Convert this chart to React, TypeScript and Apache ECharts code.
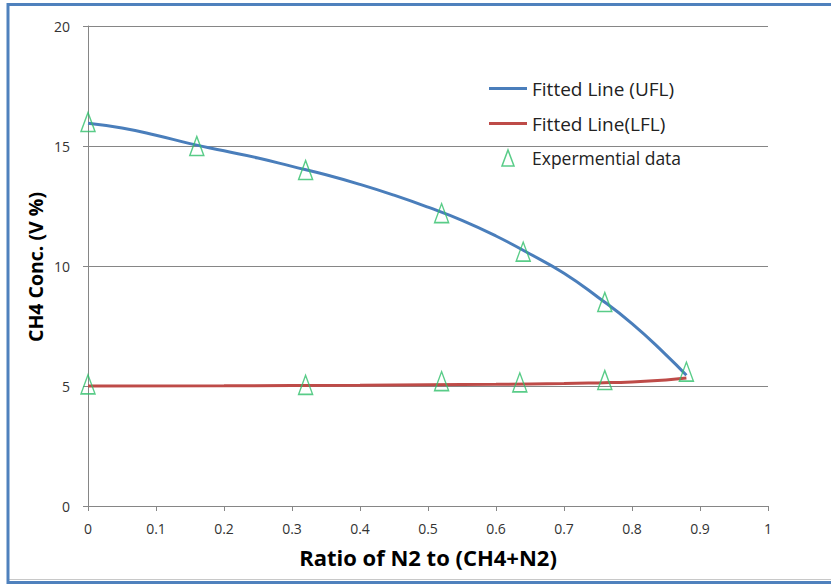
import React, { useEffect, useRef } from "react";
import * as echarts from "echarts";

// Fitted upper flammability limit curve
const uflX = [0, 0.05, 0.1, 0.15, 0.2, 0.25, 0.3, 0.35, 0.4, 0.45, 0.5, 0.55, 0.6, 0.65, 0.7, 0.75, 0.8, 0.85, 0.88];
const uflY = [15.95, 15.75, 15.45, 15.1, 14.8, 14.5, 14.15, 13.8, 13.4, 12.95, 12.45, 11.9, 11.25, 10.5, 9.7, 8.7, 7.6, 6.3, 5.45];

// Fitted lower flammability limit curve
const lflX = [0, 0.2, 0.4, 0.5, 0.6, 0.7, 0.75, 0.8, 0.85, 0.88];
const lflY = [5.0, 5.01, 5.03, 5.05, 5.07, 5.1, 5.13, 5.17, 5.25, 5.33];

// Experimental data
const expUpperX = [0, 0.16, 0.32, 0.52, 0.64, 0.76, 0.88];
const expUpperY = [16, 15, 14, 12.2, 10.6, 8.5, 5.6];
const expLowerX = [0, 0.32, 0.52, 0.635, 0.76];
const expLowerY = [5.07, 5.05, 5.2, 5.15, 5.25];

const seriesNames = ["Fitted Line (UFL)", "Fitted Line(LFL)", "Expermential data"];

const BLUE = "#4a7ebb";
const RED = "#be4b48";
const GREEN = "#2fbf6a";
const FONT = "'Open Sans', 'Noto Sans', sans-serif";

export default function App() {
  const ref = useRef<HTMLDivElement>(null);

  useEffect(() => {
    document.body.style.margin = "0";
    if (!ref.current) return;
    const chart = echarts.init(ref.current, null, { renderer: "svg" });
    const pair = (xs: number[], ys: number[]) => xs.map((x, i) => [x, ys[i]]);
    const expData = pair(expUpperX, expUpperY).concat(pair(expLowerX, expLowerY));

    chart.setOption({
      animation: false,
      backgroundColor: "#ffffff",
      grid: { left: 88, right: 63, top: 26, bottom: 78 },
      xAxis: {
        type: "value",
        min: 0,
        max: 1,
        interval: 0.1,
        axisLine: { show: true, lineStyle: { color: "#868686", width: 1 } },
        axisTick: { show: true, inside: false, length: 5, lineStyle: { color: "#868686" } },
        splitLine: { show: false },
        axisLabel: { color: "#333333", fontSize: 14, fontFamily: FONT, margin: 15 },
      },
      yAxis: {
        type: "value",
        min: 0,
        max: 20,
        interval: 5,
        axisLine: { show: true, lineStyle: { color: "#868686", width: 1 } },
        axisTick: { show: true, inside: false, length: 5, lineStyle: { color: "#868686" } },
        splitLine: { show: true, lineStyle: { color: "#868686", width: 1 } },
        axisLabel: { color: "#333333", fontSize: 14, fontFamily: FONT, margin: 18 },
      },
      legend: {
        orient: "vertical",
        left: 484,
        top: 74,
        itemWidth: 38,
        itemHeight: 16,
        itemGap: 16,
        textStyle: { fontSize: 19, lineHeight: 16, fontFamily: FONT, color: "#222222" },
        data: [
          {
            name: seriesNames[0],
            icon: "path://M0,0 L38,0 L38,3 L0,3 Z",
            itemStyle: { color: BLUE },
          },
          {
            name: seriesNames[1],
            icon: "path://M0,0 L38,0 L38,3 L0,3 Z",
            itemStyle: { color: RED },
          },
          {
            name: seriesNames[2],
            icon: "path://M6,0 L12,16 L0,16 Z",
            itemStyle: { color: "transparent", borderColor: GREEN, borderWidth: 1.5 },
            textStyle: { fontSize: 17.5, lineHeight: 16, fontFamily: FONT, color: "#222222" },
          },
        ],
      },
      series: [
        {
          name: seriesNames[0],
          type: "line",
          data: pair(uflX, uflY),
          smooth: true,
          symbol: "none",
          lineStyle: { color: BLUE, width: 3 },
          itemStyle: { color: BLUE },
          z: 2,
        },
        {
          name: seriesNames[1],
          type: "line",
          data: pair(lflX, lflY),
          smooth: true,
          symbol: "none",
          lineStyle: { color: RED, width: 3 },
          itemStyle: { color: RED },
          z: 2,
        },
        {
          name: seriesNames[2],
          type: "scatter",
          data: expData,
          symbol: "triangle",
          symbolSize: [14, 19],
          itemStyle: { color: "transparent", borderColor: GREEN, borderWidth: 1.5 },
          z: 3,
        },
      ],
      graphic: [
        {
          type: "text",
          x: 35,
          y: 267,
          rotation: Math.PI / 2,
          style: {
            text: "CH4 Conc. (V %)",
            font: `bold 19.5px ${FONT}`,
            fill: "#000000",
            textAlign: "center",
            textVerticalAlign: "middle",
          },
        },
        {
          type: "text",
          x: 428,
          y: 557,
          style: {
            text: "Ratio of N2 to (CH4+N2)",
            font: `bold 22px ${FONT}`,
            fill: "#000000",
            textAlign: "center",
            textVerticalAlign: "middle",
          },
        },
        {
          type: "line",
          shape: { x1: 9, y1: 579.5, x2: 831, y2: 579.5 },
          style: { stroke: "#c8c8c8", lineWidth: 1 },
        },
        {
          type: "rect",
          shape: { x: 8, y: 4.5, width: 830, height: 578 },
          style: { fill: "none", stroke: "#4f81bd", lineWidth: 3 },
        },
      ],
    });
    return () => chart.dispose();
  }, []);

  return <div ref={ref} style={{ width: 831, height: 584 }} />;
}
